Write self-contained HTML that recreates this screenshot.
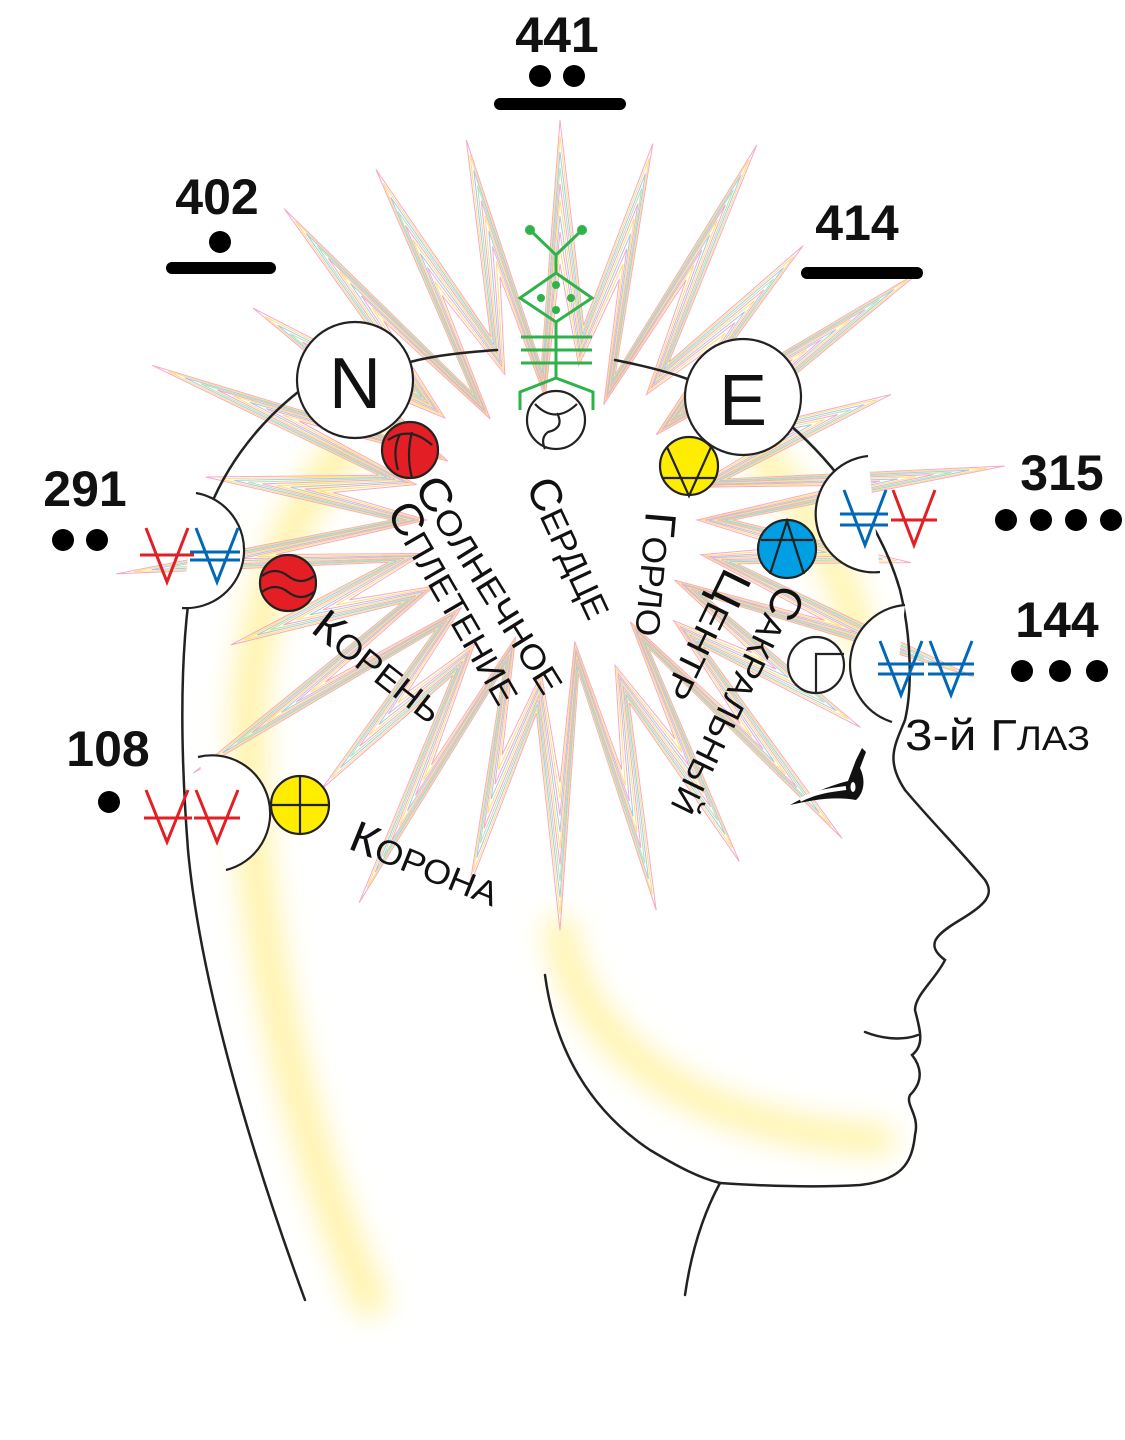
<!DOCTYPE html>
<html><head><meta charset="utf-8"><style>
html,body{margin:0;padding:0;background:#fff;}
svg{display:block;}
.num{font-family:"Liberation Sans",sans-serif;font-weight:bold;font-size:50px;fill:#111;}
.lbl{font-family:"Liberation Sans","DejaVu Sans",sans-serif;font-size:34px;fill:#111;}
.lbl tspan.f{font-size:44px;}
</style></head><body>
<svg width="1125" height="1440" viewBox="0 0 1125 1440" xmlns="http://www.w3.org/2000/svg">
<defs>
<filter id="bl" x="-50%" y="-50%" width="200%" height="200%"><feGaussianBlur stdDeviation="14"/></filter>
</defs>
<g filter="url(#bl)" fill="none" stroke="#fff3a8" stroke-linecap="round">
<path d="M370,1300 C300,1150 240,900 250,700 C260,560 320,440 420,400" stroke-width="34"/>
<path d="M560,930 C580,1050 700,1130 880,1140" stroke-width="30"/>
<path d="M690,400 C760,440 830,520 860,640" stroke-width="30"/>
<path d="M470,420 C520,380 600,380 660,420" stroke-width="40"/>
</g>
<g fill="none" id="star"></g>
<script>
(function(){
var cx=560,cy=520,n=26,cols=["#f7a8c8","#f9e27a","#a8c8ee","#b8e0b0","#f7a8c8","#f9e27a","#a8c8ee","#f7a8c8","#f9e27a","#f7a8c8"];
var g=document.getElementById('star');
function star(ro,ri){var p=[];for(var i=0;i<2*n;i++){var a=i*Math.PI/n;var r=(i%2==0)?ro:ri;
var rr=r*(1+0.12*Math.sin(i*1.7));p.push((cx+rr*Math.sin(a)).toFixed(1)+","+(cy-rr*Math.cos(a)).toFixed(1));}return p.join(" ");}
for(var k=0;k<10;k++){var el=document.createElementNS("http://www.w3.org/2000/svg","polygon");
el.setAttribute("points",star(400-k*16,175-k*4));el.setAttribute("stroke",cols[k]);el.setAttribute("stroke-width","1");el.setAttribute("fill",k==9?"#fff":"none");g.appendChild(el);}
})();
</script>
<g fill="none" stroke="#222" stroke-width="2.5" stroke-linecap="round">
<path d="M305,1300 C250,1150 200,980 188,850 C178,720 180,600 205,520 C230,450 280,400 330,370"/>
<path d="M400,365 C430,355 470,352 497,350"/>
<path d="M615,360 C640,365 670,372 690,380"/>
<path d="M790,425 C830,460 880,520 900,590 C912,640 912,690 905,720 C895,745 885,760 905,790 C930,820 960,850 985,880 C995,895 985,905 960,920 C935,935 925,945 945,960 C935,980 915,995 915,1010 C920,1030 925,1045 912,1055 C920,1065 925,1080 910,1095 C905,1105 920,1115 915,1135 C912,1165 900,1180 860,1185 C810,1188 750,1185 720,1183 C700,1220 690,1260 685,1295"/>
<path d="M545,975 C555,1050 590,1110 650,1150 C680,1168 700,1178 720,1183"/>
<path d="M865,1032 C885,1040 905,1040 918,1035"/>
</g>
<!-- eye -->
<path d="M790,805 C808,795 828,786 848,781 L856,760 L862,748 L866,752 L860,768 C866,780 864,793 856,800 C834,796 812,800 790,805 Z" fill="#111"/>
<ellipse cx="853" cy="787" rx="2.5" ry="5" fill="#fff"/>
<path d="M800,800 C815,792 830,790 846,788" stroke="#fff" stroke-width="4" fill="none"/>
<g fill="#fff" stroke="#222" stroke-width="2.2">
<path d="M196,493 A58,58 0 0 1 182,608"/>
<path d="M198,757 A58,58 0 0 1 226,870"/>
<path d="M868,456 A58,58 0 0 0 880,572"/>
<path d="M905,605 A60,60 0 0 0 892,722"/>
<circle cx="355" cy="380" r="58"/>
<circle cx="743" cy="397" r="58"/>
</g>
<text x="355" y="408" text-anchor="middle" font-family="Liberation Sans,sans-serif" font-size="72" fill="#111">N</text>
<text x="743" y="425" text-anchor="middle" font-family="Liberation Sans,sans-serif" font-size="72" fill="#111">E</text>
<g stroke="#222" stroke-width="2.2">
<circle cx="410" cy="450" r="28" fill="#e31e24"/>
<path d="M388,440 Q410,425 432,445 M398,470 Q392,450 400,434 M412,478 Q406,455 412,432" fill="none"/>
<circle cx="288" cy="583" r="28" fill="#e31e24"/>
<path d="M262,576 q13,-10 26,0 q13,10 26,0 M262,592 q13,-10 26,0 q13,10 26,0" fill="none"/>
<circle cx="300" cy="805" r="29" fill="#ffed00"/>
<path d="M271,805 H329 M300,776 V834" fill="none"/>
<circle cx="689" cy="466" r="29" fill="#ffed00"/>
<path d="M667,447 L689,496 L711,447 M662,478 H716" fill="none"/>
<circle cx="787" cy="549" r="29" fill="#009fe3"/>
<path d="M770,574 L787,521 L804,574 M761,540 H813" fill="none"/>
<circle cx="816" cy="665" r="28" fill="#fff"/>
<path d="M816,693 V654 H844" fill="none"/>
<circle cx="556" cy="420" r="29" fill="#fff"/>
<path d="M535,404 Q555,425 577,404 M557,413 Q565,428 548,432 Q540,438 545,449" fill="none"/>
</g>
<g stroke="#2db34a" stroke-width="3" fill="none">
<path d="M530,230 L556,255 L582,230 M556,255 V273 M556,273 L592,298 L556,322 L520,298 Z M556,322 V378 M521,337 H592 M521,350 H592 M521,363 H592 M556,378 L520,392 V410 M556,378 L593,392 V410"/>
</g>
<g fill="#2db34a"><circle cx="530" cy="230" r="5"/><circle cx="582" cy="230" r="5"/><circle cx="556" cy="285" r="4"/><circle cx="556" cy="310" r="4"/><circle cx="541" cy="298" r="4"/><circle cx="571" cy="298" r="4"/></g>
<g fill="none" stroke-width="3">
<path stroke="#e31e24" d="M146,528 L167,582 L188,528 M140,555 H194"/>
<path stroke="#0068b4" d="M196,528 L217,582 L238,528 M190,552 H240 M190,560 H240"/>
<path stroke="#e31e24" d="M146,790 L167,842 L188,790 M144,818 H192"/>
<path stroke="#e31e24" d="M196,790 L217,842 L238,790 M194,818 H240"/>
<path stroke="#0068b4" d="M844,490 L865,545 L886,490 M840,514 H888 M840,525 H888"/>
<path stroke="#e31e24" d="M893,490 L914,545 L935,490 M891,520 H937"/>
<path stroke="#0068b4" d="M880,641 L901,695 L922,641 M878,664 H924 M878,674 H924"/>
<path stroke="#0068b4" d="M930,641 L951,695 L972,641 M928,664 H974 M928,674 H974"/>
</g>
<text class="num" x="557" y="52" text-anchor="middle">441</text>
<circle cx="540" cy="76" r="11"/><circle cx="574" cy="76" r="11"/>
<rect x="494" y="98" width="132" height="12" rx="6"/>
<text class="num" x="217" y="214" text-anchor="middle">402</text>
<circle cx="220" cy="242" r="11"/>
<rect x="166" y="262" width="110" height="12" rx="6"/>
<text class="num" x="857" y="240" text-anchor="middle">414</text>
<rect x="801" y="267" width="122" height="12" rx="6"/>
<text class="num" x="85" y="506" text-anchor="middle">291</text>
<circle cx="63" cy="540" r="11"/><circle cx="97" cy="540" r="11"/>
<text class="num" x="1062" y="490" text-anchor="middle">315</text>
<circle cx="1006" cy="520" r="11"/><circle cx="1041" cy="520" r="11"/><circle cx="1076" cy="520" r="11"/><circle cx="1111" cy="520" r="11"/>
<text class="num" x="1057" y="637" text-anchor="middle">144</text>
<circle cx="1022" cy="671" r="11"/><circle cx="1060" cy="671" r="11"/><circle cx="1097" cy="671" r="11"/>
<text class="num" x="108" y="766" text-anchor="middle">108</text>
<circle cx="109" cy="802" r="11"/>
<!-- labels -->
<text class="lbl" transform="translate(425,480) rotate(58)" dy="14" textLength="247" lengthAdjust="spacingAndGlyphs"><tspan class="f" dy="14">С</tspan>ОЛНЕЧНОЕ</text>
<text class="lbl" transform="translate(398,505) rotate(60)" textLength="226" lengthAdjust="spacingAndGlyphs"><tspan class="f" dy="14">С</tspan>ПЛЕТЕНИЕ</text>
<text class="lbl" transform="translate(538,480) rotate(65)" textLength="150" lengthAdjust="spacingAndGlyphs"><tspan class="f" dy="14">С</tspan>ЕРДЦЕ</text>
<text class="lbl" transform="translate(660,512) rotate(95)" textLength="125" lengthAdjust="spacingAndGlyphs"><tspan class="f" dy="14">Г</tspan>ОРЛО</text>
<text class="lbl" transform="translate(792,588) rotate(116)" textLength="250" lengthAdjust="spacingAndGlyphs"><tspan class="f" dy="14">С</tspan>АКРАЛЬНЫЙ</text>
<text class="lbl" transform="translate(738,572) rotate(116)" textLength="141" lengthAdjust="spacingAndGlyphs"><tspan class="f" dy="14">Ц</tspan>ЕНТР</text>
<text class="lbl" transform="translate(318,620) rotate(38)" textLength="153" lengthAdjust="spacingAndGlyphs"><tspan class="f" dy="14">К</tspan>ОРЕНЬ</text>
<text class="lbl" transform="translate(352,835) rotate(22)" textLength="157" lengthAdjust="spacingAndGlyphs"><tspan class="f" dy="14">К</tspan>ОРОНА</text>
<text class="lbl" x="905" y="750" textLength="185" lengthAdjust="spacingAndGlyphs"><tspan class="f">3-й Г</tspan>ЛАЗ</text>
</svg>
</body></html>
